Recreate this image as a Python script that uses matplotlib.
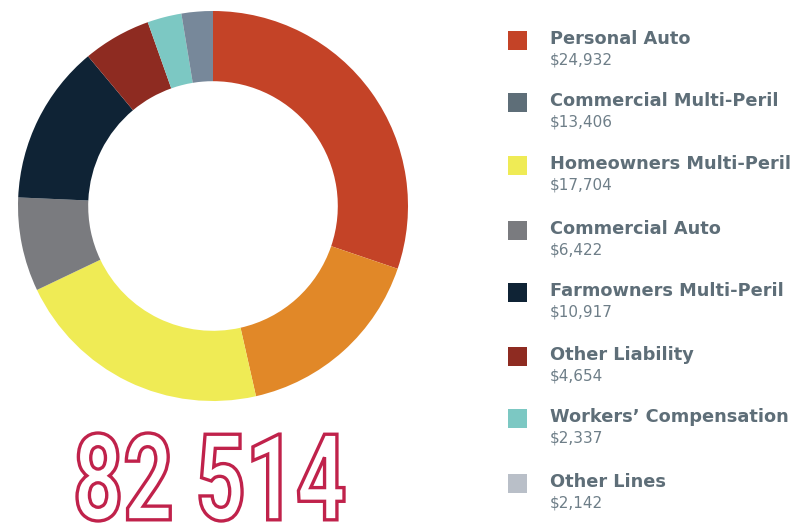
import matplotlib
matplotlib.use('Agg')
import matplotlib.pyplot as plt
from matplotlib.textpath import TextPath
from matplotlib.font_manager import FontProperties
from matplotlib.patches import PathPatch, Rectangle
from matplotlib.transforms import Affine2D

# data
lines = ['Personal Auto', 'Commercial Multi-Peril', 'Homeowners Multi-Peril',
         'Commercial Auto', 'Farmowners Multi-Peril', 'Other Liability',
         "Workers\u2019 Compensation", 'Other Lines']
values = [24932, 13406, 17704, 6422, 10917, 4654, 2337, 2142]
slice_colors = ['#C44327', '#E18828', '#EFEB55', '#7A7B7F',
                '#0F2335', '#8E2B21', '#7CC8C3', '#77889A']
legend_colors = ['#C44327', '#5E6E78', '#EFEB55', '#7A7B7F',
                 '#0F2335', '#8E2B21', '#7CC8C3', '#B9BFC8']
total_label = '82 514'

W, H = 795, 531
fig = plt.figure(figsize=(W / 100, H / 100), dpi=100)

# donut
cx, cy, r = 213, 206, 195
ax = fig.add_axes([(cx - r) / W, (H - cy - r) / H, 2 * r / W, 2 * r / H])
ax.pie(values, colors=slice_colors, startangle=90, counterclock=False,
       radius=1.0, wedgeprops=dict(width=0.36, linewidth=0))
ax.set_xlim(-1, 1)
ax.set_ylim(-1, 1)
ax.set_aspect('equal')
ax.axis('off')

# overlay in pixel coords (y measured from top)
ov = fig.add_axes([0, 0, 1, 1])
ov.set_xlim(0, W)
ov.set_ylim(H, 0)
ov.axis('off')

# big outlined total, squeezed into a condensed shape
tp = TextPath((0, 0), total_label, size=100,
              prop=FontProperties(family='Roboto', weight='bold'))
bb = tp.get_extents()
x0, x1, y0, y1 = 77, 344, 433, 521
sx = (x1 - x0) / bb.width
sy = (y1 - y0) / bb.height
tr = Affine2D().translate(-bb.x0, -bb.y0).scale(sx, -sy).translate(x0, y1)
tp2 = tr.transform_path(tp)
ov.add_patch(PathPatch(tp2, facecolor='white', edgecolor='#C0224B', linewidth=2.4))

# legend
row_y = [39, 101, 164, 229, 291, 355, 417, 482]
for i, (name, val, col) in enumerate(zip(lines, values, legend_colors)):
    y = row_y[i]
    ov.add_patch(Rectangle((508, y - 8), 19, 19, facecolor=col, edgecolor='none'))
    ov.text(550, y, name, fontsize=12.8, fontweight='bold', color='#5E6E78',
            family='DejaVu Sans', va='center', ha='left')
    ov.text(550, y + 21, '${:,}'.format(val), fontsize=11, color='#6E7E88',
            family='DejaVu Sans', va='center', ha='left')

fig.savefig('out.png', dpi=100)
